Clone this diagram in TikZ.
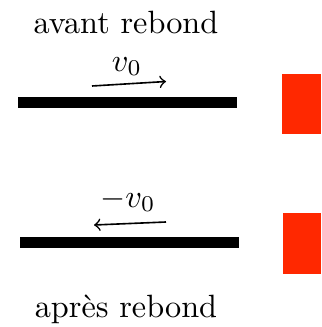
\documentclass[tikz,border=0pt]{standalone}
\begin{document}
\begin{tikzpicture}[x=0.31pt,y=-0.31pt,
  bar/.style={fill=black},
  wall/.style={fill=redwall},
  vel/.style={->,line width=0.5pt,>=to},
  lbl/.style={anchor=base,inner sep=0pt}]
\definecolor{redwall}{RGB}{255,40,0}
\useasboundingbox (0,0) rectangle (321,327);
% top
\node[lbl] (t1) at (126,33) {avant rebond};
\fill[bar] (18,97) rectangle (237,108);
\fill[wall] (282,74) rectangle (321,134);
\coordinate (a1) at (92,86);
\coordinate (a2) at (166,81.5);
\draw[vel] (a1) -- (a2);
\node[lbl] (v1) at (127,71) {$v_0$};
% bottom
\fill[bar] (19.5,237) rectangle (239,248);
\fill[wall] (283,213) rectangle (321,274);
\coordinate (b1) at (166,222);
\coordinate (b2) at (94,225);
\draw[vel] (b1) -- (b2);
\node[lbl] (v2) at (128,207) {$-v_0$};
\node[lbl] (t2) at (126,317) {apr\`es rebond};
\end{tikzpicture}
\end{document}
